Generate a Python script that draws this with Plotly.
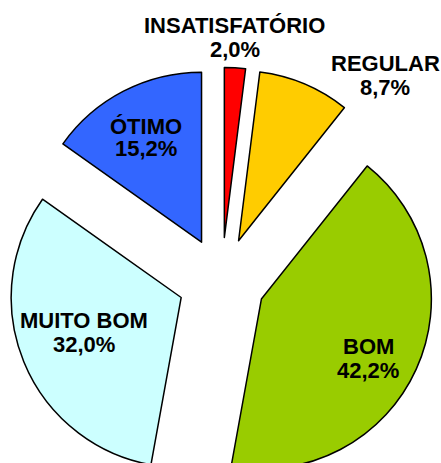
import plotly.graph_objects as go

# fatias na ordem horária a partir das 12 horas
categorias = ['INSATISFATÓRIO', 'REGULAR', 'BOM', 'MUITO BOM', 'ÓTIMO']
percentuais = [2.0, 8.7, 42.2, 32.0, 15.2]
cores = ['#FF0000', '#FFCC00', '#99CC00', '#CCFFFF', '#3366FF']

W, H = 441, 562  # figura mais alta que a janela: a pizza fica cortada embaixo

fig = go.Figure(go.Pie(
    labels=categorias,
    values=percentuais,
    sort=False,
    direction='clockwise',
    rotation=0,
    pull=0.257,
    textinfo='none',
    hoverinfo='label+percent',
    marker=dict(colors=cores, line=dict(color='black', width=1.5)),
    domain=dict(x=[0.018, 0.987], y=[0, 1]),
    showlegend=False,
))

# posição (em pixels) do centro de cada linha de rótulo
pos_rotulos = {
    'INSATISFATÓRIO': (235, 26, 49),
    'REGULAR': (385, 64, 87),
    'BOM': (368, 346, 370),
    'MUITO BOM': (84, 320, 344),
    'ÓTIMO': (146, 126, 148),
}

fonte = dict(family='Liberation Sans, Arial, sans-serif', size=22, color='black', weight='bold')
for cat, val in zip(categorias, percentuais):
    px_, y1, y2 = pos_rotulos[cat]
    for txt, py in ((cat, y1), (f'{val:.1f}%'.replace('.', ','), y2)):
        fig.add_annotation(
            text=txt, x=px_ / W, y=1 - py / H, xref='paper', yref='paper',
            xanchor='center', yanchor='middle', showarrow=False, font=fonte,
        )

fig.update_layout(
    width=W, height=H,
    margin=dict(l=0, r=0, t=0, b=0),
    paper_bgcolor='white',
    plot_bgcolor='white',
)

# tira a margem padrão do <body> para a figura começar no canto da janela
fig.write_html(
    "out.html",
    config={'displayModeBar': False},
    post_script="document.body.style.margin='0';document.body.style.overflow='hidden';",
)
